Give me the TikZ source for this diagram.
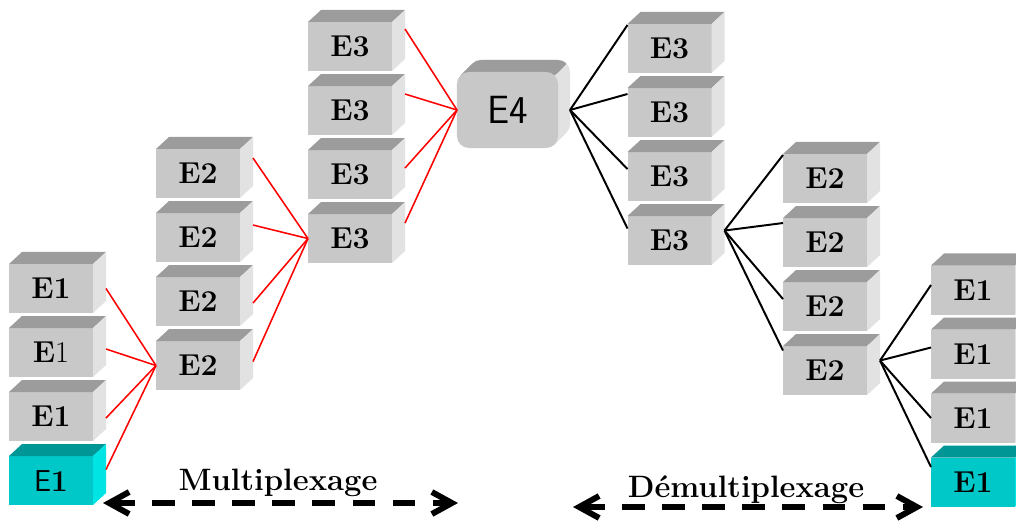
\documentclass[tikz,border=0pt]{standalone}
\usepackage{tikz}
\usetikzlibrary{arrows.meta, positioning, calc, backgrounds}
\definecolor{front}{RGB}{200,200,200}
\definecolor{topface}{RGB}{156,156,156}
\definecolor{sideface}{RGB}{226,226,226}
\definecolor{cyanfront}{RGB}{0,200,200}
\definecolor{cyantop}{RGB}{0,150,150}
\definecolor{cyanside}{RGB}{0,228,228}
\newcommand{\relief}[3]{%
  \fill[#2] (#1.north west) -- ++(13,12) -- ($(#1.north east)+(13,12)$) -- (#1.north east) -- cycle;
  \fill[#3] (#1.north east) -- ++(13,12) -- ($(#1.south east)+(13,12)$) -- (#1.south east) -- cycle;}
\tikzset{
  bloc/.style={fill=front, minimum width=2.1cm, minimum height=1.225cm, inner sep=0pt, outer sep=0pt,
    font=\fontsize{21.5}{23}\selectfont\bfseries},
  cyanbloc/.style={bloc, fill=cyanfront},
  e4bloc/.style={fill=front, rounded corners=0.3cm, minimum width=2.525cm, minimum height=1.9cm,
    inner sep=0pt, outer sep=0pt, font=\sffamily\fontsize{28}{30}\selectfont},
  mux/.style={red, line width=1.1pt},
  demux/.style={black, line width=1.4pt},
  fleche/.style={line width=4.2pt, dash pattern=on 16pt off 12.5pt,
    {Straight Barb[length=0.5cm, width=0.55cm]}-{Straight Barb[length=0.5cm, width=0.55cm]}},
  titre/.style={font=\fontsize{22}{24}\selectfont\bfseries, inner sep=0pt}
}
\begin{document}
\begin{tikzpicture}[x=0.025cm, y=0.025cm]
  \useasboundingbox (0,0) rectangle (1016,522);

  \node[bloc] (mx1-1) at (51,233.5) {E1};
  \node[bloc, below=0.375cm of mx1-1] (mx1-2) {E{\mdseries 1}};
  \node[bloc, below=0.375cm of mx1-2] (mx1-3) {E1};
  \node[cyanbloc, below=0.375cm of mx1-3] (mx1-4) {{\sffamily\mdseries E}1};

  \node[bloc] (dx1-1) at (973,232) {E1};
  \node[bloc, below=0.375cm of dx1-1] (dx1-2) {E1};
  \node[bloc, below=0.375cm of dx1-2] (dx1-3) {E1};
  \node[cyanbloc, below=0.375cm of dx1-3] (dx1-4) {E1};

  \foreach \col/\x/\y/\lab in {mx2/198/348.5/2, mx3/350/475.5/3, dx3/669.5/473.5/3, dx2/825/343.5/2} {
    \node[bloc] (\col-1) at (\x,\y) {E\lab};
    \node[bloc, below=0.375cm of \col-1] (\col-2) {E\lab};
    \node[bloc, below=0.375cm of \col-2] (\col-3) {E\lab};
    \node[bloc, below=0.375cm of \col-3] (\col-4) {E\lab};
  }

  \foreach \n in {mx1-1,mx1-2,mx1-3,mx2-1,mx2-2,mx2-3,mx2-4,mx3-1,mx3-2,mx3-3,mx3-4,
                  dx3-1,dx3-2,dx3-3,dx3-4,dx2-1,dx2-2,dx2-3,dx2-4,dx1-1,dx1-2,dx1-3}
    \relief{\n}{topface}{sideface};
  \relief{mx1-4}{cyantop}{cyanside}
  \relief{dx1-4}{cyantop}{cyanside}

  \node[e4bloc] (e4) at (507.5,412) {E4};
  \begin{scope}[on background layer]
    \foreach \k in {1,...,12}
      \fill[sideface, rounded corners=0.3cm] ($(e4.south west)+(\k,\k)$) rectangle ($(e4.north east)+(\k,\k)$);
    \begin{scope}
      \clip (e4.north east) -- ++(30,30) -- ($(e4.north west)+(-10,30)$) -- ($(e4.west)+(-10,0)$) -- (e4.center) -- cycle;
      \foreach \k in {1,...,12}
        \fill[topface, rounded corners=0.3cm] ($(e4.south west)+(\k,\k)$) rectangle ($(e4.north east)+(\k,\k)$);
    \end{scope}
  \end{scope}

  \foreach \i/\d in {1/0,2/3.5,3/-1.5,4/11}
    \draw[mux] ($(mx1-\i.east)+(13,\d)$) -- (mx2-4.west);
  \foreach \i/\d in {1/15.5,2/12.5,3/-1.5,4/4}
    \draw[mux] ($(mx2-\i.east)+(13,\d)$) -- (mx3-4.west);
  \foreach \i/\d in {1/17.5,2/16.5,3/6.5,4/15.5}
    \draw[mux] ($(mx3-\i.east)+(13,\d)$) -- (e4.west);
  \foreach \i/\d in {1/23.5,2/18.5,3/7.5,4/12}
    \draw[demux] ($(e4.east)+(12,0)$) -- ($(dx3-\i.west)+(0,\d)$);
  \foreach \i/\d in {1/23.5,2/19.5,3/7.5,4/20}
    \draw[demux] ($(dx3-4.east)+(13,10)$) -- ($(dx2-\i.west)+(0,\d)$);
  \foreach \i/\d in {1/5,2/6.5,3/0,4/15}
    \draw[demux] ($(dx2-4.east)+(13,10)$) -- ($(dx1-\i.west)+(0,\d)$);

  \coordinate (mxa) at (103,19);
  \coordinate (mxb) at (458,19);
  \draw[fleche] (mxa) -- (mxb);
  \node[titre] (mxtxt) at (278,39) {Multiplexage};
  \coordinate (dxa) at (573,15);
  \coordinate (dxb) at (923,15);
  \draw[fleche] (dxa) -- (dxb);
  \node[titre] (dxtxt) at (746,32) {Démultiplexage};
\end{tikzpicture}
\end{document}
